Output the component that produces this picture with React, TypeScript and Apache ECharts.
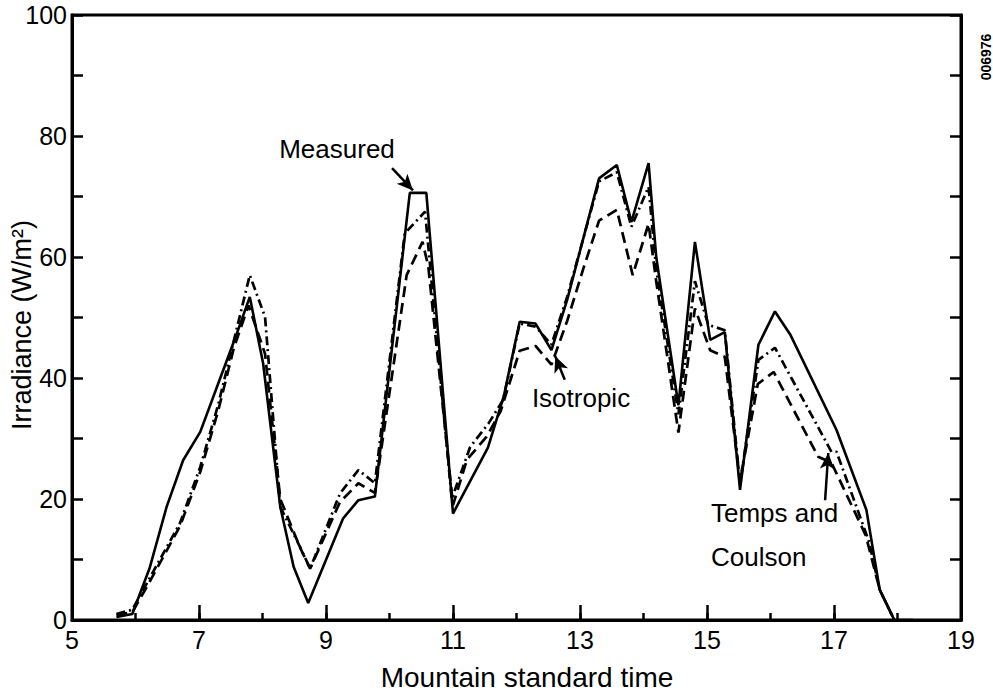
import React, { useEffect, useRef } from "react";
import * as echarts from "echarts";

// Hours (Mountain standard time) and irradiance (W/m²) for each curve
const measuredT = [5.7, 5.95, 6.22, 6.49, 6.75, 7.02, 7.3, 7.57, 7.8, 8.01, 8.28, 8.49, 8.72, 9.27, 9.51, 9.77, 10.32, 10.58, 11.0, 11.55, 11.8, 12.05, 12.3, 12.55, 12.8, 13.05, 13.3, 13.58, 13.81, 14.08, 14.2, 14.55, 14.81, 15.05, 15.28, 15.52, 15.81, 16.07, 16.31, 17.04, 17.51, 17.72, 17.95, 18.25];
const measuredV = [0.5, 1, 8.5, 18.7, 26.4, 31.1, 39, 46.6, 53.4, 42.4, 18.7, 8.8, 2.8, 16.8, 19.8, 20.4, 70.6, 70.6, 17.6, 28.5, 37, 49.3, 49, 44.6, 53, 63, 73, 75.2, 65.8, 75.5, 60, 35.5, 62.5, 46.3, 47.6, 21.5, 45.5, 51, 47.2, 31.4, 18.2, 5, 0, 0];

const isotropicT = [5.7, 5.95, 6.18, 6.7, 7.02, 7.3, 7.55, 7.78, 8.04, 8.28, 8.59, 8.75, 9.22, 9.51, 9.77, 10.27, 10.52, 10.61, 11.0, 11.22, 11.53, 11.75, 12.05, 12.3, 12.55, 12.8, 13.05, 13.3, 13.58, 13.83, 14.08, 14.2, 14.55, 14.81, 15.05, 15.28, 15.52, 15.8, 16.05, 16.75, 16.96, 17.5, 17.72, 17.95];
const isotropicV = [0.8, 1.3, 5.5, 15.5, 24.5, 34.5, 45, 52, 44, 20, 12, 8.5, 19.5, 22.6, 21, 57, 62.5, 58.5, 19, 26.5, 30.3, 34.5, 44.5, 45.3, 42.2, 49.5, 58, 66, 67.8, 57, 65.5, 56, 31, 51.5, 44.6, 43.5, 23, 39, 41, 27, 26, 14, 5, 0];

const tempsCoulsonT = [5.7, 5.95, 6.18, 6.7, 7.02, 7.3, 7.54, 7.8, 8.04, 8.28, 8.59, 8.75, 9.22, 9.51, 9.77, 10.24, 10.56, 10.98, 11.27, 11.56, 11.79, 12.05, 12.3, 12.55, 12.8, 13.05, 13.3, 13.58, 13.81, 14.08, 14.2, 14.55, 14.81, 15.02, 15.28, 15.52, 15.81, 16.07, 16.96, 17.04, 17.55, 17.72, 17.95];
const tempsCoulsonV = [1, 1.7, 6.1, 16, 25.3, 35.5, 45.8, 57, 50.1, 18.7, 12.1, 8.5, 20.9, 24.8, 22.6, 63.9, 67.5, 20, 28.6, 32.5, 36.4, 49, 48.5, 45.5, 53.5, 63, 72.5, 74, 65, 71.6, 58, 34, 56, 48.8, 47.9, 22.5, 43, 45, 27.8, 27.8, 13, 5, 0];

const majorHours = [5, 7, 9, 11, 13, 15, 17, 19];

// Annotation arrows: [tailT, tailV, headT, headV]
const arrowMeasured = [10.04, 74.7, 10.37, 71.0];
const arrowIsotropic = [12.76, 39.7, 12.61, 43.6];
const arrowTemps = [16.86, 19.8, 16.91, 27.6];

const FONT = "'Liberation Sans', Arial, Helvetica, sans-serif";

const zip = (t: number[], v: number[]) => t.map((x, i) => [x, v[i]]);
const arrowSeg = (a: number[]) => [{ coord: [a[0], a[1]] }, { coord: [a[2], a[3]] }];

export default function App() {
  const ref = useRef<HTMLDivElement>(null);
  useEffect(() => {
    if (!ref.current) return;
    const chart = echarts.init(ref.current, undefined, { renderer: "svg" });
    const axisLine = { show: true, onZero: false, lineStyle: { color: "#000", width: 3 } };
    const tickStyle = { color: "#000", width: 2.5 };
    chart.setOption({
      animation: false,
      backgroundColor: "#fff",
      grid: { left: 72, top: 15, right: 32, bottom: 73, show: true, borderColor: "#000", borderWidth: 3 },
      xAxis: [
        {
          type: "value", min: 5, max: 19, interval: 1, position: "bottom",
          axisLine,
          axisTick: { show: true, inside: true, length: 7, lineStyle: tickStyle },
          axisLabel: {
            color: "#000", fontSize: 25, fontFamily: FONT, margin: 7,
            formatter: (v: number) => (majorHours.includes(v) ? String(v) : ""),
          },
          splitLine: { show: false },
        },
        {
          type: "value", min: 5, max: 19, position: "bottom",
          axisLine: { show: false },
          axisTick: { show: true, inside: true, length: 15, customValues: majorHours, lineStyle: tickStyle },
          axisLabel: { show: false },
          splitLine: { show: false },
        },
      ],
      yAxis: [
        {
          type: "value", min: 0, max: 100, interval: 10, position: "left",
          axisLine,
          axisTick: { show: true, inside: true, length: 11, lineStyle: tickStyle },
          axisLabel: {
            color: "#000", fontSize: 25, fontFamily: FONT, margin: 5,
            formatter: (v: number) => (v % 20 === 0 ? String(v) : ""),
          },
          splitLine: { show: false },
        },
        {
          type: "value", min: 0, max: 100, interval: 10, position: "right",
          axisLine,
          axisTick: { show: true, inside: true, length: 11, lineStyle: tickStyle },
          axisLabel: { show: false },
          splitLine: { show: false },
        },
      ],
      series: [
        {
          name: "Isotropic", type: "line", data: zip(isotropicT, isotropicV), showSymbol: false,
          lineStyle: { color: "#000", width: 2.7, type: [11, 6] }, z: 2,
        },
        {
          name: "Temps and Coulson", type: "line", data: zip(tempsCoulsonT, tempsCoulsonV), showSymbol: false,
          lineStyle: { color: "#000", width: 2.7, type: [9, 4, 2, 4] }, z: 3,
        },
        {
          name: "Measured", type: "line", data: zip(measuredT, measuredV), showSymbol: false,
          lineStyle: { color: "#000", width: 2.6, type: "solid" }, z: 4,
          markLine: {
            silent: true, animation: false,
            symbol: ["none", "arrow"], symbolSize: [11, 16],
            label: { show: false },
            lineStyle: { color: "#000", width: 2.5, type: "solid" },
            emphasis: { disabled: true },
            data: [arrowSeg(arrowMeasured), arrowSeg(arrowIsotropic), arrowSeg(arrowTemps)],
          },
        },
      ],
      graphic: [
        { type: "text", x: 337, y: 149, style: { text: "Measured", font: `26px ${FONT}`, fill: "#000", align: "center", verticalAlign: "middle" } },
        { type: "text", x: 581, y: 398, style: { text: "Isotropic", font: `26px ${FONT}`, fill: "#000", align: "center", verticalAlign: "middle" } },
        { type: "text", x: 711, y: 491, style: { text: "Temps and\nCoulson", font: `26px ${FONT}`, lineHeight: 44, fill: "#000", align: "left", verticalAlign: "top" } },
        { type: "text", x: 527, y: 677, style: { text: "Mountain standard time", font: `28px ${FONT}`, fill: "#000", align: "center", verticalAlign: "middle" } },
        { type: "text", x: 22, y: 325, rotation: Math.PI / 2, style: { text: "Irradiance (W/m²)", font: `27px ${FONT}`, fill: "#000", align: "center", verticalAlign: "middle" } },
        { type: "text", x: 986, y: 57, rotation: Math.PI / 2, style: { text: "006976", font: `bold 14px ${FONT}`, fill: "#000", align: "center", verticalAlign: "middle" } },
      ],
    });
    return () => chart.dispose();
  }, []);
  return (
    <div
      ref={ref}
      style={{ position: "fixed", left: 0, top: 0, width: 993, height: 693, background: "#fff" }}
    />
  );
}
